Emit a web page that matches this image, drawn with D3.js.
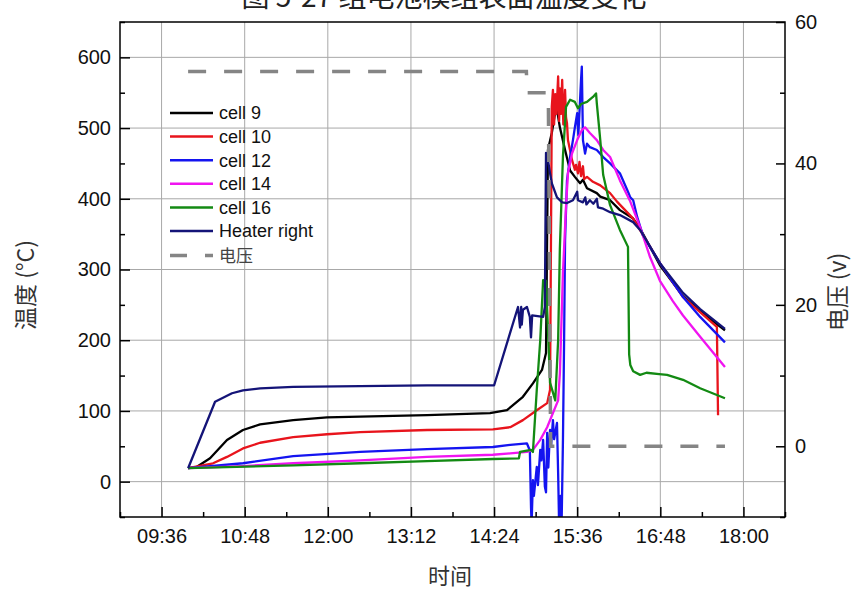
<!DOCTYPE html>
<html>
<head>
<meta charset="utf-8">
<script src="https://cdn.jsdelivr.net/npm/d3@7"></script>
<style>
  body { margin: 0; background: #fff; }
  svg { display: block; }
</style>
</head>
<body>
<svg id="chart" width="858" height="590"></svg>
<script>
// temperatures (°C), [time, value]
const cell9 = [['09:59:00',19],['10:06:40',21],['10:18:00',33],['10:32:40',59],['10:46:30',73],['11:01:20',81],['11:30:00',87],['11:59:20',91],['12:28:00',92],['13:26:00',94],['14:20:30',97],['14:35:10',101],['14:49:00',120],['14:57:40',139],['15:05:30',158],['15:09:00',182],['15:10:40',469],['15:14:00',493],['15:17:00',523],['15:18:30',526],['15:21:00',501],['15:25:30',469],['15:29:50',440],['15:34:00',431],['15:38:30',422],['15:41:00',427],['15:44:30',415],['15:53:00',408],['15:56:00',403],['16:04:30',398],['16:13:00',384],['16:24:30',372],['16:30:30',358],['16:47:40',306],['17:07:40',262],['17:22:30',241],['17:44:00',214]];

const cell10 = [['09:59:00',19],['10:20:35',26],['10:32:40',35],['10:46:30',47],['11:01:20',55],['11:30:00',63],['11:59:20',67],['12:28:00',70],['13:26:00',73],['14:23:00',74],['14:38:00',77],['14:49:00',87],['15:01:00',101],['15:10:00',111],['15:12:30',130],['15:14:00',530],['15:15:00',554],['15:16:00',505],['15:17:00',548],['15:18:00',520],['15:19:30',573],['15:20:20',510],['15:21:00',556],['15:22:00',520],['15:23:00',568],['15:24:00',505],['15:25:30',554],['15:26:20',515],['15:27:10',507],['15:28:00',483],['15:31:30',455],['15:34:00',441],['15:35:00',448],['15:36:40',436],['15:38:00',452],['15:39:20',432],['15:41:00',446],['15:42:00',428],['15:44:30',431],['15:49:40',424],['15:56:00',419],['16:04:30',408],['16:10:30',396],['16:24:30',372],['16:47:40',309],['17:07:40',261],['17:37:00',219],['17:38:00',94]];

const cell12 = [['09:59:00',19],['10:46:30',26],['11:30:00',36],['12:28:00',42],['13:26:00',46],['14:23:00',49],['14:38:00',52],['14:52:30',54],['14:55:00',44],['14:56:00',-36],['14:56:30',-60],['14:57:40',2],['14:58:30',-20],['15:01:00',21],['15:02:00',-5],['15:04:00',45],['15:05:00',30],['15:06:30',59],['15:08:00',-7],['15:09:00',-15],['15:10:00',69],['15:11:00',20],['15:12:30',73],['15:13:20',50],['15:15:00',87],['15:16:00',60],['15:18:30',83],['15:19:30',12],['15:20:20',-60],['15:21:30',-20],['15:22:30',-60],['15:23:40',59],['15:24:40',200],['15:25:30',341],['15:27:10',426],['15:29:50',459],['15:32:20',483],['15:34:00',501],['15:36:00',521],['15:37:00',490],['15:39:20',568],['15:40:00',587],['15:41:00',483],['15:42:50',464],['15:44:30',478],['15:47:00',473],['15:53:00',469],['15:58:30',459],['16:04:30',450],['16:13:00',436],['16:20:00',410],['16:22:00',402],['16:24:30',398],['16:28:00',374],['16:33:00',348],['16:47:40',309],['17:07:40',261],['17:22:30',233],['17:44:00',197]];

const cell14 = [['09:59:00',19],['10:46:30',22],['11:30:00',26],['12:28:00',30],['13:26:00',35],['14:23:00',38],['14:38:00',40],['14:52:30',42],['14:57:40',45],['15:04:00',59],['15:10:00',77],['15:15:00',97],['15:19:30',115],['15:21:00',153],['15:23:40',295],['15:26:20',389],['15:28:00',436],['15:31:30',464],['15:36:00',483],['15:40:00',497],['15:42:50',501],['15:47:00',493],['15:53:00',483],['15:58:30',469],['16:04:30',459],['16:13:00',426],['16:22:00',396],['16:30:30',360],['16:39:00',318],['16:47:40',284],['16:59:00',255],['17:07:40',235],['17:22:30',205],['17:44:00',162]];

const cell16 = [['09:59:00',19],['11:30:00',23],['12:28:00',26],['13:26:00',29],['14:23:00',32],['14:45:30',33],['14:46:30',42],['14:56:00',45],['14:57:40',42],['15:01:00',130],['15:04:00',200],['15:06:30',285],['15:09:00',284],['15:12:30',140],['15:17:00',115],['15:19:30',200],['15:21:00',330],['15:23:40',460],['15:26:20',530],['15:29:50',540],['15:34:00',537],['15:36:40',528],['15:39:20',534],['15:44:30',537],['15:49:40',544],['15:52:20',549],['15:53:00',535],['15:56:00',483],['15:58:30',434],['16:04:30',391],['16:13:00',356],['16:20:00',332],['16:21:00',180],['16:22:00',165],['16:24:30',156],['16:30:30',151],['16:36:00',154],['16:47:00',152],['16:53:50',151],['17:07:40',144],['17:22:30',132],['17:44:00',118]];

const heaterRight = [['09:59:00',19],['10:22:20',113],['10:37:00',125],['10:46:30',129],['11:01:20',132],['11:30:00',134],['12:28:00',135],['13:26:00',136],['14:24:00',136],['14:44:45',247],['14:46:30',218],['14:47:30',247],['14:48:00',222],['14:49:00',243],['14:52:30',247],['14:55:00',233],['14:56:00',204],['14:57:00',235],['15:06:30',233],['15:08:00',247],['15:09:00',465],['15:10:00',462],['15:12:30',436],['15:14:00',422],['15:18:30',402],['15:23:00',395],['15:27:10',394],['15:32:20',398],['15:36:00',410],['15:36:40',398],['15:41:00',395],['15:43:00',402],['15:44:00',392],['15:47:00',398],['15:50:00',393],['15:53:00',400],['15:54:00',388],['15:58:30',386],['16:04:30',381],['16:13:00',377],['16:24:30',367],['16:30:30',356],['16:47:40',309],['17:07:40',267],['17:22:30',244],['17:44:00',216]];

// voltage (V), right axis
const voltage = [['09:59:00',53],['14:52:00',53],['14:52:40',50],['15:11:00',50],['15:13:00',0],['17:44:00',0]];

const seriesNames = ['cell 9', 'cell 10', 'cell 12', 'cell 14', 'cell 16', 'Heater right'];
const seriesData = [cell9, cell10, cell12, cell14, cell16, heaterRight];
const seriesColors = ['#000000', '#e8141c', '#1414f0', '#f014f0', '#138a13', '#141478'];

const timeTicks = ['09:36', '10:48', '12:00', '13:12', '14:24', '15:36', '16:48', '18:00'];
const timeMinorTicks = ['09:00', '10:12', '11:24', '12:36', '13:48', '15:00', '16:12', '17:24', '18:36'];
const tempTicks = [0, 100, 200, 300, 400, 500, 600];
const tempMinorTicks = [-50, 50, 150, 250, 350, 450, 550, 650];
const voltTicks = [0, 20, 40, 60];
const voltMinorTicks = [-10, 10, 30, 50];

const svg = d3.select('#chart');
const plotLeft = 120, plotRight = 785, plotTop = 22, plotBottom = 517;
const tickFont = '"Liberation Sans", Arial, sans-serif';
const cjkFont = '"Noto Sans CJK SC", sans-serif';

const parseT = d3.timeParse('%H:%M:%S');
const parseHM = d3.timeParse('%H:%M');

const x = d3.scaleTime().domain([parseHM('09:00'), parseHM('18:36')]).range([plotLeft, plotRight]);
const y = d3.scaleLinear().domain([-50, 650]).range([plotBottom, plotTop]);
const yV = d3.scaleLinear().domain([-10, 60]).range([plotBottom, plotTop]);

// title, its upper part falls outside the picture as in the source
svg.append('text')
    .attr('x', 444).attr('y', 7)
    .attr('text-anchor', 'middle')
    .style('font-family', cjkFont)
    .style('font-size', '28px')
    .attr('fill', '#222')
    .text('图 5-27 组电池模组表面温度变化');

// grid
svg.append('g').selectAll('line')
    .data(timeTicks.map(parseHM))
    .enter().append('line')
    .attr('x1', d => x(d)).attr('x2', d => x(d))
    .attr('y1', plotTop).attr('y2', plotBottom)
    .attr('stroke', '#a8a8a8').attr('stroke-width', 1);

svg.append('g').selectAll('line')
    .data(tempTicks)
    .enter().append('line')
    .attr('x1', plotLeft).attr('x2', plotRight)
    .attr('y1', d => y(d)).attr('y2', d => y(d))
    .attr('stroke', '#a8a8a8').attr('stroke-width', 1);

// axes, ticks point inward
function styleAxis(g) {
    g.select('.domain').remove();
    g.selectAll('line').attr('stroke', '#000').attr('stroke-width', 1.5);
    g.selectAll('text').style('font-family', tickFont).style('font-size', '20px').attr('fill', '#111');
}

svg.append('g')
    .attr('transform', `translate(0,${plotBottom})`)
    .call(d3.axisBottom(x).tickValues(timeTicks.map(parseHM)).tickFormat(d3.timeFormat('%H:%M')).tickSize(-10).tickPadding(12))
    .call(styleAxis);
svg.append('g')
    .attr('transform', `translate(0,${plotBottom})`)
    .call(d3.axisBottom(x).tickValues(timeMinorTicks.map(parseHM)).tickFormat('').tickSize(-5))
    .call(styleAxis);

svg.append('g')
    .attr('transform', `translate(${plotLeft},0)`)
    .call(d3.axisLeft(y).tickValues(tempTicks).tickSize(-10).tickPadding(9))
    .call(styleAxis);
svg.append('g')
    .attr('transform', `translate(${plotLeft},0)`)
    .call(d3.axisLeft(y).tickValues(tempMinorTicks).tickFormat('').tickSize(-5))
    .call(styleAxis);

svg.append('g')
    .attr('transform', `translate(${plotRight},0)`)
    .call(d3.axisRight(yV).tickValues(voltTicks).tickSize(-9).tickPadding(10))
    .call(styleAxis);
svg.append('g')
    .attr('transform', `translate(${plotRight},0)`)
    .call(d3.axisRight(yV).tickValues(voltMinorTicks).tickFormat('').tickSize(-5))
    .call(styleAxis);

// lines
svg.append('clipPath').attr('id', 'plotClip')
    .append('rect')
    .attr('x', plotLeft).attr('y', plotTop)
    .attr('width', plotRight - plotLeft).attr('height', plotBottom - plotTop);

const plot = svg.append('g').attr('clip-path', 'url(#plotClip)');

const tempLine = d3.line()
    .x(d => x(parseT(d[0])))
    .y(d => y(d[1]));

seriesData.forEach((data, i) => {
    plot.append('path')
        .datum(data)
        .attr('d', tempLine)
        .attr('fill', 'none')
        .attr('stroke', seriesColors[i])
        .attr('stroke-width', 2.3)
        .attr('stroke-linejoin', 'round');
});

const voltLine = d3.line()
    .x(d => x(parseT(d[0])))
    .y(d => yV(d[1]));

plot.append('path')
    .datum(voltage)
    .attr('d', voltLine)
    .attr('fill', 'none')
    .attr('stroke', '#858585')
    .attr('stroke-width', 3.5)
    .attr('stroke-dasharray', '18,18');

// frame
svg.append('rect')
    .attr('x', plotLeft).attr('y', plotTop)
    .attr('width', plotRight - plotLeft).attr('height', plotBottom - plotTop)
    .attr('fill', 'none')
    .attr('stroke', '#000')
    .attr('stroke-width', 1.5);

// legend
const legend = svg.append('g');
const legendTop = 113, legendStep = 23.6;

seriesNames.forEach((name, i) => {
    const ly = legendTop + i * legendStep;
    legend.append('line')
        .attr('x1', 170).attr('x2', 213)
        .attr('y1', ly).attr('y2', ly)
        .attr('stroke', seriesColors[i])
        .attr('stroke-width', 2.5);
    legend.append('text')
        .attr('x', 219).attr('y', ly)
        .attr('dy', '0.35em')
        .style('font-family', tickFont)
        .style('font-size', '18px')
        .attr('fill', '#111')
        .text(name);
});

const vy = legendTop + seriesNames.length * legendStep + 1;
legend.append('line')
    .attr('x1', 170).attr('x2', 213)
    .attr('y1', vy).attr('y2', vy)
    .attr('stroke', '#858585')
    .attr('stroke-width', 3.5)
    .attr('stroke-dasharray', '17,18');
legend.append('text')
    .attr('x', 219).attr('y', vy)
    .attr('dy', '0.35em')
    .style('font-family', cjkFont)
    .style('font-size', '17px')
    .attr('fill', '#444')
    .text('电压');

// axis titles
svg.append('text')
    .attr('transform', 'translate(34,285) rotate(-90)')
    .attr('text-anchor', 'middle')
    .style('font-family', cjkFont)
    .style('font-size', '23px')
    .attr('fill', '#333')
    .text('温度 (°C)');

svg.append('text')
    .attr('transform', 'translate(846,292) rotate(-90)')
    .attr('text-anchor', 'middle')
    .style('font-family', cjkFont)
    .style('font-size', '23px')
    .attr('fill', '#333')
    .text('电压 (v)');

svg.append('text')
    .attr('x', 450).attr('y', 584)
    .attr('text-anchor', 'middle')
    .style('font-family', cjkFont)
    .style('font-size', '22px')
    .attr('fill', '#333')
    .text('时间');
</script>
</body>
</html>
